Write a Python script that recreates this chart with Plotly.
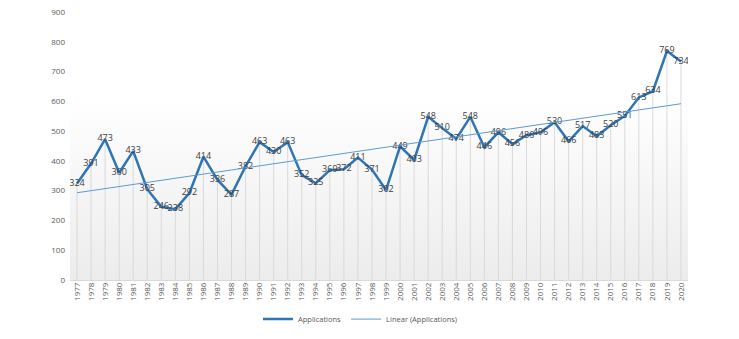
import numpy as np
import plotly.graph_objects as go

years = list(range(1977, 2021))
applications = [324, 391, 473, 360, 433, 305, 246, 238, 292, 414, 336, 287, 382, 463, 430, 463,
                352, 325, 369, 372, 411, 371, 302, 449, 403, 548, 510, 474, 548, 446, 496, 456,
                486, 496, 530, 466, 517, 483, 520, 551, 613, 634, 769, 734]
y_ticks = [0, 100, 200, 300, 400, 500, 600, 700, 800, 900]
bg_top = 620

coef = np.polyfit(years, applications, 1)
trend = np.polyval(coef, years)

font = "Open Sans"
fig = go.Figure()

# gradient background area
fig.add_trace(go.Scatter(
    x=[years[0] - 0.5, years[-1] + 0.5], y=[bg_top, bg_top], mode="lines",
    line=dict(width=0), fill="tozeroy",
    fillgradient=dict(type="vertical", colorscale=[[0, "rgba(236,236,236,1)"], [1, "rgba(255,255,255,1)"]]),
    showlegend=False, hoverinfo="skip"))

# drop lines
dx, dy = [], []
for yr, v in zip(years, applications):
    dx += [yr, yr, None]
    dy += [0, v, None]
fig.add_trace(go.Scatter(x=dx, y=dy, mode="lines", line=dict(color="#d9d9d9", width=1),
                         showlegend=False, hoverinfo="skip"))

fig.add_trace(go.Scatter(
    x=years, y=applications, mode="lines+text", name="Applications",
    line=dict(color="#2e75b6", width=2.5),
    text=[str(v) for v in applications], textposition="middle center",
    textfont=dict(family=font, size=9, color="#404040")))

fig.add_trace(go.Scatter(
    x=years, y=trend, mode="lines", name="Linear (Applications)",
    line=dict(color="#5b9bd5", width=1)))

fig.update_layout(
    width=739, height=339,
    margin=dict(l=70, r=51, t=12, b=59, autoexpand=False),
    paper_bgcolor="white", plot_bgcolor="white",
    font=dict(family=font, size=8, color="#595959"),
    legend=dict(orientation="h", x=0.47, xanchor="center", y=-0.2, yanchor="bottom",
                itemwidth=30, font=dict(family=font, size=7.5, color="#595959")),
    xaxis=dict(range=[years[0] - 0.5, years[-1] + 0.5], tickvals=years, automargin=False,
               ticktext=[str(y) for y in years], tickangle=-90, showgrid=False,
               zeroline=False, showline=False, tickfont=dict(size=8, color="#595959")),
    yaxis=dict(range=[0, 900], tickvals=y_ticks, showgrid=False, zeroline=True, automargin=False,
               zerolinecolor="#d9d9d9", zerolinewidth=1, showline=False,
               tickfont=dict(size=8, color="#595959"), ticklabelstandoff=4),
)

fig.write_html("out.html")
